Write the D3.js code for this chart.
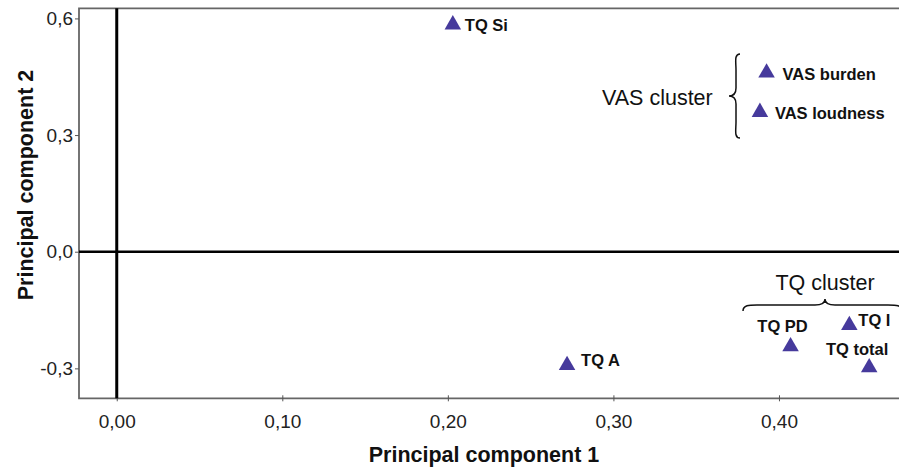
<!DOCTYPE html>
<html><head><meta charset="utf-8">
<script src="https://cdn.jsdelivr.net/npm/d3@7"></script>
<style>body{margin:0;background:#fff;} svg{display:block;font-family:"Liberation Sans",Arial,sans-serif;}</style>
</head><body><div id="c"></div>
<script>
const labels = ["TQ Si","VAS burden","VAS loudness","TQ A","TQ PD","TQ I","TQ total"];
const pc1 = [0.203, 0.3925, 0.3885, 0.272, 0.407, 0.4425, 0.4545];
const pc2 = [0.584, 0.460, 0.359, -0.292, -0.244, -0.189, -0.298];
const xTicks = [0, 0.1, 0.2, 0.3, 0.4];
const yTicks = [-0.3, 0, 0.3, 0.6];
// label placement: [dx, dy, anchor]
const labelPos = [[12,1,"start"],[16,1,"start"],[15,1,"start"],[14,-5,"start"],[-8,-20,"middle"],[9,-5,"start"],[-12,-18,"middle"]];

const W=899,H=467;
const svg=d3.select("#c").append("svg").attr("width",W).attr("height",H);
const x=d3.scaleLinear().domain([-0.0228,0.4725]).range([79,899]);
const y=d3.scaleLinear().domain([-0.377,0.626]).range([398.3,8.3]);
const fmt2=d3.format(".2f"), fmt1=d3.format(".1f");
const dec=s=>s.replace(".",",").replace("\u2212","-");

// frame
svg.append("path").attr("d",`M${W+5},8.3H79V398.3H${W+5}`).attr("fill","none").attr("stroke","#666").attr("stroke-width",1.8);

// axes
const xa=svg.append("g").attr("transform","translate(0,398.3)")
  .call(d3.axisBottom(x).tickValues(xTicks).tickSize(4).tickFormat(d=>dec(fmt2(d))));
xa.select(".domain").remove();
xa.selectAll("line").attr("stroke","#555").attr("y1",-3).attr("y2",3);
xa.selectAll("text").attr("font-size",19).attr("fill","#222").attr("dy","0").attr("y",30).attr("font-family","Liberation Sans, Arial, sans-serif");
const ya=svg.append("g").attr("transform","translate(79,0)")
  .call(d3.axisLeft(y).tickValues(yTicks).tickSize(4).tickFormat(d=>dec(fmt1(d))));
ya.select(".domain").remove();
ya.selectAll("line").attr("stroke","#555");
ya.selectAll("text").attr("font-size",19).attr("fill","#222").attr("x",-6).attr("font-family","Liberation Sans, Arial, sans-serif");

// zero lines
svg.append("line").attr("x1",79).attr("x2",W).attr("y1",y(0)).attr("y2",y(0)).attr("stroke","#000").attr("stroke-width",2.5);
svg.append("line").attr("x1",x(0)).attr("x2",x(0)).attr("y1",8.3).attr("y2",398.3).attr("stroke","#000").attr("stroke-width",3);

// axis titles
svg.append("text").attr("x",484).attr("y",462).attr("text-anchor","middle").attr("font-size",21.5).attr("font-weight","bold").attr("fill","#111").text("Principal component 1");
svg.append("text").attr("transform","translate(33,185) rotate(-90)").attr("text-anchor","middle").attr("font-size",21.5).attr("font-weight","bold").attr("fill","#111").text("Principal component 2");

// points
const sym=d3.symbol().type(d3.symbolTriangle).size(118);
labels.forEach((l,i)=>{
  svg.append("path").attr("d",sym()).attr("transform",`translate(${x(pc1[i])},${y(pc2[i])})`).attr("fill","#463a9c");
  const p=labelPos[i];
  svg.append("text").attr("x",x(pc1[i])+p[0]).attr("y",y(pc2[i])+p[1]).attr("dy","0.35em")
    .attr("text-anchor",p[2]).attr("font-size",16.5).attr("font-weight","bold").attr("fill","#111").text(l);
});

// VAS cluster annotation
svg.append("text").attr("x",602).attr("y",97).attr("dy","0.35em").attr("font-size",21.5).attr("fill","#111").text("VAS cluster");
const bx=736, bt=54, bb=138, bm=(bt+bb)/2;
svg.append("path").attr("d",`M${bx+4},${bt} C${bx-2},${bt} ${bx},${bt+8} ${bx},${bt+16} L${bx},${bm-8} C${bx},${bm-2} ${bx-3},${bm} ${bx-7},${bm} C${bx-3},${bm} ${bx},${bm+2} ${bx},${bm+8} L${bx},${bb-16} C${bx},${bb-8} ${bx-2},${bb} ${bx+4},${bb}`)
  .attr("fill","none").attr("stroke","#111").attr("stroke-width",1.5);

// TQ cluster annotation
svg.append("text").attr("x",825).attr("y",282).attr("dy","0.35em").attr("text-anchor","middle").attr("font-size",21.5).attr("fill","#111").text("TQ cluster");
const hl=743, hr=902, hy=305, hm=825;
svg.append("path").attr("d",`M${hl},${hy+6} C${hl},${hy} ${hl+6},${hy} ${hl+14},${hy} L${hm-10},${hy} C${hm-4},${hy} ${hm},${hy-2} ${hm},${hy-6} C${hm},${hy-2} ${hm+4},${hy} ${hm+10},${hy} L${hr-14},${hy} C${hr-6},${hy} ${hr},${hy} ${hr},${hy+6}`)
  .attr("fill","none").attr("stroke","#111").attr("stroke-width",1.5);
</script></body></html>
